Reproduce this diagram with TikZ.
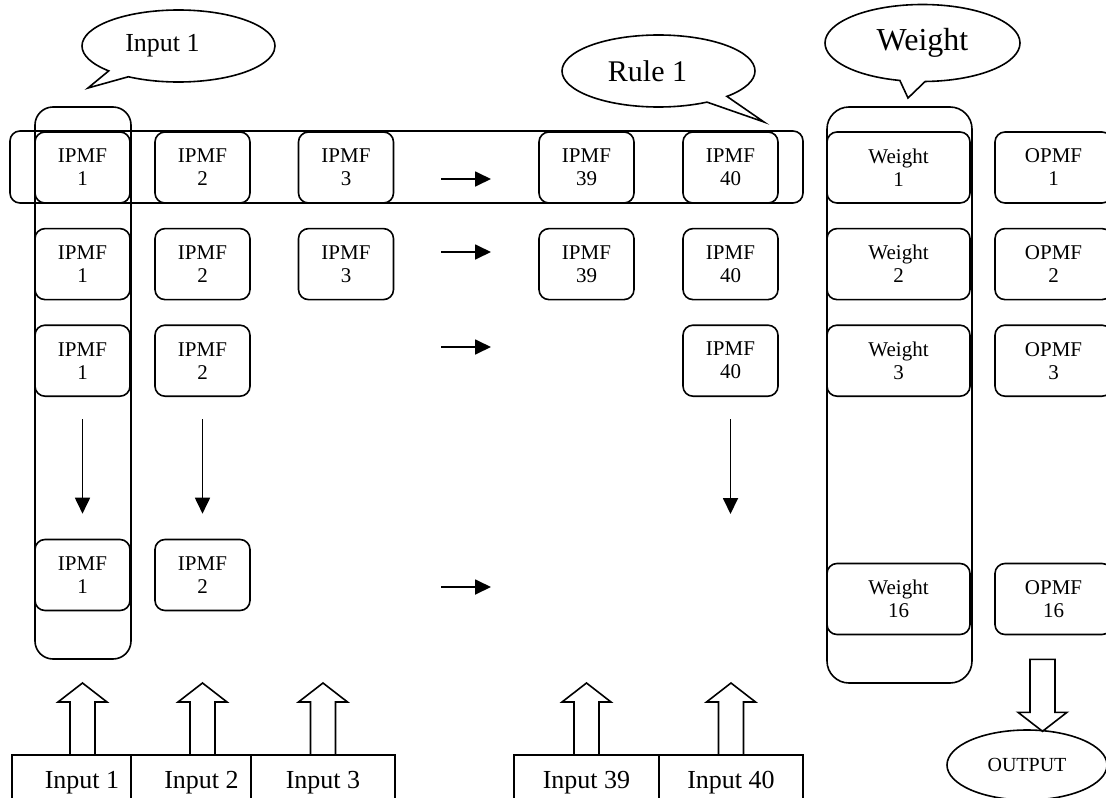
\documentclass[tikz,border=0pt]{standalone}
\usepackage{fontspec}
\setmainfont{Liberation Serif}
\usetikzlibrary{shapes.geometric,shapes.callouts,arrows.meta,positioning}

\begin{document}
\begin{tikzpicture}[x=1pt, y=-1pt, line width=1.6pt,
    font=\fontsize{21}{23}\selectfont,
    mf/.style={rectangle, draw, rounded corners=10pt, align=center, minimum width=95, minimum height=71, inner sep=0pt},
    wbox/.style={mf, minimum width=143},
    obox/.style={mf, minimum width=117},
    grp/.style={rectangle, draw, rounded corners=18pt, inner sep=0pt},
    inbox/.style={rectangle, draw, minimum height=55, inner sep=0pt, outer sep=0pt, font=\fontsize{26}{30}\selectfont},
    bubble/.style={ellipse callout, draw, minimum width=193, minimum height=72, inner sep=0pt},
    flow/.style={-{Triangle[length=16pt,width=15pt]}, line width=1.8pt},
    pics/fatarrow/.style={code={\draw[line join=miter] (-12.5,0) -- (-12.5,-53) -- (-24.5,-53) -- (0,-72) -- (24.5,-53) -- (12.5,-53) -- (12.5,0) -- cycle;}}]
  \useasboundingbox (0,0) rectangle (1106,798);

  % groups
  \node[grp, rounded corners=10pt, minimum width=793, minimum height=72] (rulerow) at (406.5,167) {};
  \node[grp, minimum width=96, minimum height=552] (inpcol) at (83,383) {};
  \node[grp, rounded corners=22pt, minimum width=145, minimum height=576] (wcol) at (899.5,395) {};

  % membership functions of the inputs
  \node[mf] (a1) at (82.5,167.5) {IPMF\\1};
  \node[mf] (b1) at (202.5,167.5) {IPMF\\2};
  \node[mf] (c1) at (346,167.5) {IPMF\\3};
  \node[mf] (y1) at (586.5,167.5) {IPMF\\39};
  \node[mf] (z1) at (730.5,167.5) {IPMF\\40};

  \node[mf, below=24pt of a1] (a2) {IPMF\\1};
  \node[mf, below=24pt of b1] (b2) {IPMF\\2};
  \node[mf, below=24pt of c1] (c2) {IPMF\\3};
  \node[mf, below=24pt of y1] (y2) {IPMF\\39};
  \node[mf, below=24pt of z1] (z2) {IPMF\\40};

  \node[mf, below=24pt of a2] (a3) {IPMF\\1};
  \node[mf, below=24pt of b2] (b3) {IPMF\\2};
  \node[mf, below=24pt of z2] (z3) {IPMF\\40};

  \node[mf] (a4) at (82.5,575) {IPMF\\1};
  \node[mf] (b4) at (202.5,575) {IPMF\\2};

  % weights and output functions
  \node[wbox] (w1) at (898.5,167.5) {Weight\\1};
  \node[wbox, below=24pt of w1] (w2) {Weight\\2};
  \node[wbox, below=24pt of w2] (w3) {Weight\\3};
  \node[wbox] (w16) at (898.5,599) {Weight\\16};

  \node[obox] (o1) at (1053.5,167.5) {OPMF\\1};
  \node[obox, below=24pt of o1] (o2) {OPMF\\2};
  \node[obox, below=24pt of o2] (o3) {OPMF\\3};
  \node[obox] (o16) at (1053.5,599) {OPMF\\16};

  % arrows between columns
  \coordinate (r1s) at (441,179);
  \coordinate (r1e) at (491,179);
  \coordinate (r2s) at (441,252);
  \coordinate (r2e) at (491,252);
  \coordinate (r3s) at (441,347);
  \coordinate (r3e) at (491,347);
  \coordinate (r4s) at (441,587);
  \coordinate (r4e) at (491,587);
  \draw[flow] (r1s) -- (r1e);
  \draw[flow] (r2s) -- (r2e);
  \draw[flow] (r3s) -- (r3e);
  \draw[flow] (r4s) -- (r4e);

  \coordinate (z4) at (730.5,514);
  \draw[flow, shorten <=22pt, shorten >=25pt] (a3) -- (a4);
  \draw[flow, shorten <=22pt, shorten >=25pt] (b3) -- (b4);
  \draw[flow, shorten <=22pt] (z3) -- (z4);

  % callouts
  \node[bubble, callout absolute pointer={(88,88)}, font=\fontsize{26}{30}\selectfont] (inpnote) at (178.5,46) {Input 1\hspace*{32pt}};
  \node[bubble, callout absolute pointer={(764,122)}, font=\fontsize{30}{34}\selectfont] (rulenote) at (658.5,71) {Rule 1\hspace*{22pt}};
  \node[bubble, minimum width=195, minimum height=77, callout absolute pointer={(908,98)}, font=\fontsize{32}{36}\selectfont] (wnote) at (922.5,43) {Weight};

  % inputs
  \node[inbox, minimum width=119] (in1) at (71.5,782.5) {\hspace*{21pt}Input 1};
  \node[inbox, minimum width=120, right=0pt of in1] (in2) {\hspace*{21pt}Input 2};
  \node[inbox, minimum width=144, right=0pt of in2] (in3) {Input 3};
  \node[inbox, minimum width=145] (in39) at (586.5,782.5) {Input 39};
  \node[inbox, minimum width=144, right=0pt of in39] (in40) {Input 40};

  \pic at (in1.north -| a4) {fatarrow};
  \pic at (in2.north -| b4) {fatarrow};
  \pic at (in3.north) {fatarrow};
  \pic at (in39.north) {fatarrow};
  \pic at (in40.north) {fatarrow};

  % output
  \node[ellipse, draw, minimum width=160, minimum height=70, inner sep=0pt, font=\fontsize{20}{23}\selectfont] (out) at (1027,765) {OUTPUT};
  \pic[rotate=180] at ([xshift=-11pt,yshift=-24pt]o16.south) {fatarrow};
\end{tikzpicture}
\end{document}
